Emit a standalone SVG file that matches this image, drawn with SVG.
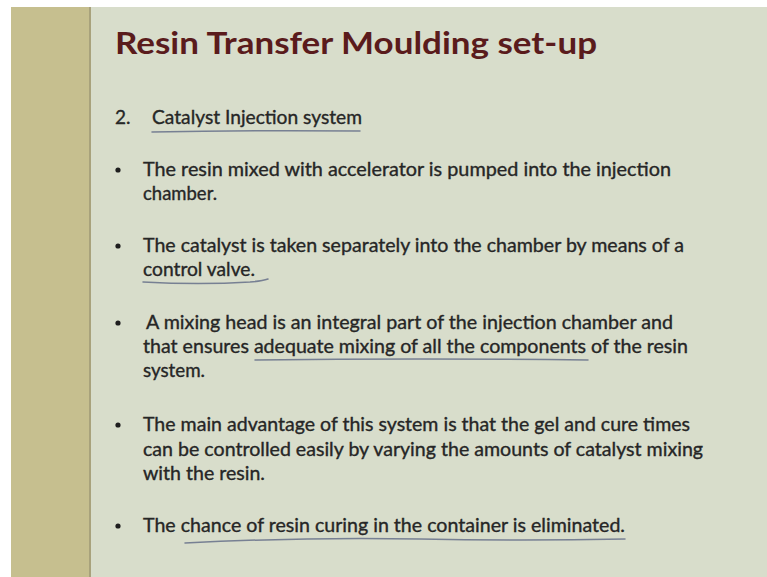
<svg xmlns="http://www.w3.org/2000/svg" width="767" height="577" viewBox="0 0 767 577">
  <style>
    .body { font-family: Lato, "Open Sans", "Liberation Sans", sans-serif; font-size: 19px; fill: #262626; stroke: #262626; stroke-width: 0.35; }
    .title { font-family: Lato, "Open Sans", "Liberation Sans", sans-serif; font-size: 31px; font-weight: bold; fill: #5a1b1c; }
    .ul { fill: none; stroke: #667089; stroke-width: 1.5; stroke-linecap: round; opacity: 0.85; }
    .dot { fill: #1e1e1e; }
  </style>
  <g id="background">
    <rect x="0" y="0" width="767" height="577" fill="#ffffff"/>
    <rect x="11" y="7" width="756" height="570" fill="#d8ddcb"/>
    <rect x="11" y="7" width="78" height="570" fill="#c6bf8f"/>
    <rect x="89" y="7" width="2" height="570" fill="#a8a27c"/>
  </g>
  <g id="title">
    <text class="title" x="115" y="54" textLength="482" lengthAdjust="spacingAndGlyphs">Resin Transfer Moulding set-up</text>
  </g>
  <g id="heading">
    <text class="body" x="115" y="124">2.</text>
    <text class="body" x="152" y="124" textLength="210" lengthAdjust="spacingAndGlyphs">Catalyst Injection system</text>
  </g>
  <g id="bullet1">
    <circle class="dot" cx="118" cy="170" r="2.6"/>
    <text class="body" x="143" y="176" textLength="528" lengthAdjust="spacingAndGlyphs">The resin mixed with accelerator is pumped into the injection</text>
    <text class="body" x="143" y="200" textLength="74" lengthAdjust="spacingAndGlyphs">chamber.</text>
  </g>
  <g id="bullet2">
    <circle class="dot" cx="118" cy="246" r="2.6"/>
    <text class="body" x="143" y="252" textLength="541" lengthAdjust="spacingAndGlyphs">The catalyst is taken separately into the chamber by means of a</text>
    <text class="body" x="143" y="276" textLength="112" lengthAdjust="spacingAndGlyphs">control valve.</text>
  </g>
  <g id="bullet3">
    <circle class="dot" cx="118" cy="323" r="2.6"/>
    <text class="body" x="146" y="329" textLength="527" lengthAdjust="spacingAndGlyphs">A mixing head is an integral part of the injection chamber and</text>
    <text class="body" x="143" y="353" textLength="545" lengthAdjust="spacingAndGlyphs">that ensures adequate mixing of all the components of the resin</text>
    <text class="body" x="143" y="377" textLength="62" lengthAdjust="spacingAndGlyphs">system.</text>
  </g>
  <g id="bullet4">
    <circle class="dot" cx="118" cy="425" r="2.6"/>
    <text class="body" x="143" y="431" textLength="547" lengthAdjust="spacingAndGlyphs">The main advantage of this system is that the gel and cure times</text>
    <text class="body" x="143" y="456" textLength="560" lengthAdjust="spacingAndGlyphs">can be controlled easily by varying the amounts of catalyst mixing</text>
    <text class="body" x="143" y="480" textLength="122" lengthAdjust="spacingAndGlyphs">with the resin.</text>
  </g>
  <g id="bullet5">
    <circle class="dot" cx="118" cy="526" r="2.6"/>
    <text class="body" x="143" y="532" textLength="482" lengthAdjust="spacingAndGlyphs">The chance of resin curing in the container is eliminated.</text>
  </g>
  <g id="connectors">
    <path class="ul" d="M152,132 Q250,130 360,131"/>
    <path class="ul" d="M143,282 Q200,285 250,282 Q262,281 268,279"/>
    <path class="ul" d="M255,360 Q420,358 588,360"/>
    <path class="ul" d="M185,543 Q300,537 420,539 Q520,541 625,539"/>
  </g>
</svg>
